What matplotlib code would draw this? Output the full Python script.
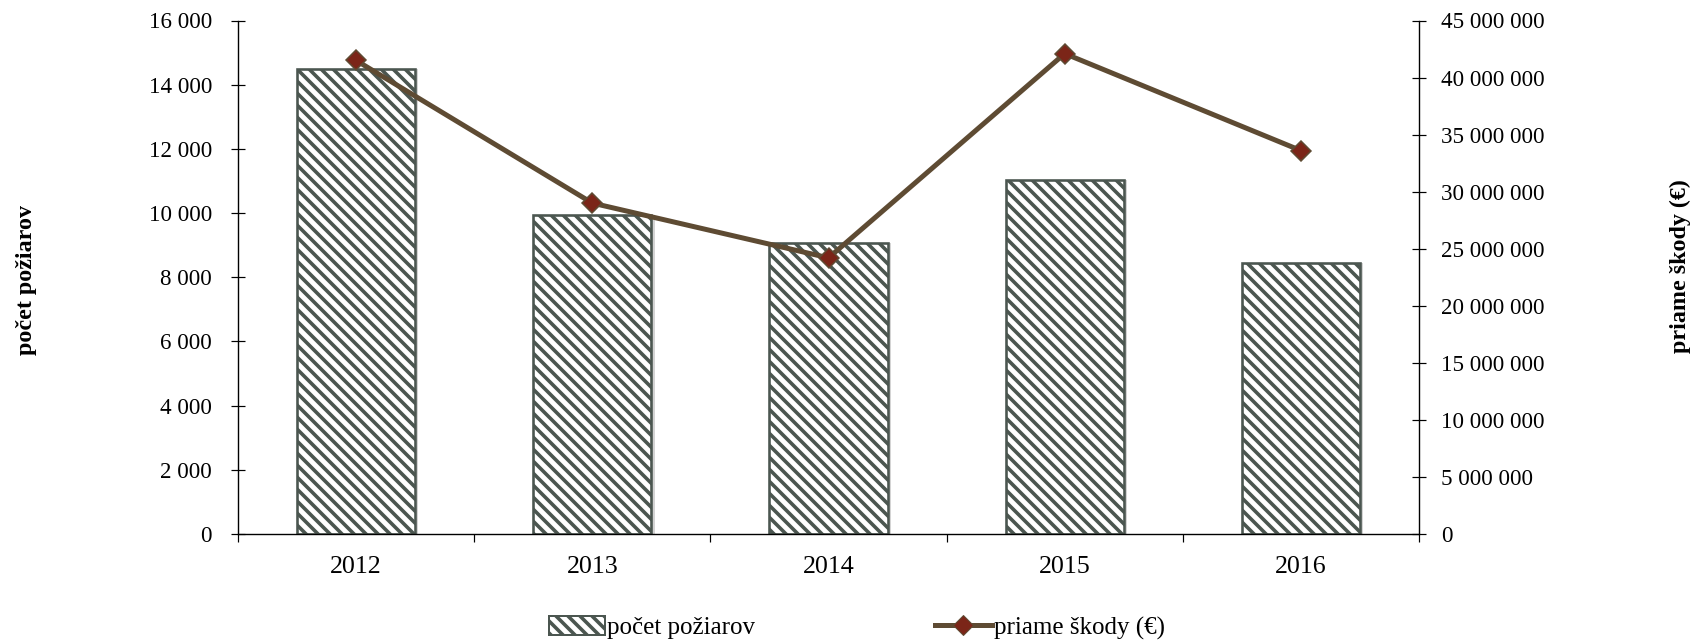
import numpy as np
import matplotlib
matplotlib.use("Agg")
import matplotlib.pyplot as plt
from matplotlib.ticker import FuncFormatter
from matplotlib.lines import Line2D
from matplotlib.patches import Patch

# data
years = ["2012", "2013", "2014", "2015", "2016"]
fires = [14480, 9940, 9060, 11040, 8450]
damage = [41.5e6, 29.0e6, 24.2e6, 42.1e6, 33.6e6]

left_ticks = [0, 2000, 4000, 6000, 8000, 10000, 12000, 14000, 16000]
right_ticks = [0, 5e6, 10e6, 15e6, 20e6, 25e6, 30e6, 35e6, 40e6, 45e6]

plt.rcParams['font.family'] = ['Liberation Serif', 'DejaVu Serif']
plt.rcParams['hatch.linewidth'] = 3.6
plt.rcParams['hatch.color'] = '#4b5650'

# at 72 dpi one point is one pixel
W, H, DPI = 1692, 643, 72
HATCH = '\\\\'
LINE_C = '#5e4b33'
MARK_C = '#7b2518'
BAR_EDGE = '#4b5650'

def spaced(v, pos):
    return "{:,.0f}".format(v).replace(",", " ")

fig = plt.figure(figsize=(W / DPI, H / DPI), dpi=DPI)
ax = fig.add_axes([238 / W, 1 - 534 / H, (1419 - 238) / W, (534 - 20.5) / H])
ax2 = ax.twinx()

x = np.arange(len(years))

# light shadow behind the bars
ax.bar(x + 0.014, fires, width=0.5, color='#d4d4d4', edgecolor='none', zorder=1)
ax.bar(x, fires, width=0.5, facecolor='white', edgecolor=BAR_EDGE,
       linewidth=2.6, hatch=HATCH, zorder=2)

ax2.plot(x, damage, color=LINE_C, linewidth=5, marker='D', markersize=14,
         markerfacecolor=MARK_C, markeredgecolor=LINE_C,
         markeredgewidth=1.5, zorder=3)

ax.set_xlim(-0.5, len(years) - 0.5)
ax.set_ylim(0, 16000)
ax2.set_ylim(0, 45e6)

ax.set_yticks(left_ticks)
ax2.set_yticks(right_ticks)
ax.yaxis.set_major_formatter(FuncFormatter(spaced))
ax2.yaxis.set_major_formatter(FuncFormatter(spaced))

ax.set_xticks(x)
ax.set_xticklabels(years)
ax.set_xticks(np.arange(len(years) + 1) - 0.5, minor=True)
ax.tick_params(axis='x', which='major', length=0, pad=22, labelsize=26)
ax.tick_params(axis='x', which='minor', length=8, width=1.2, direction='out')
ax.tick_params(axis='y', length=14, width=1.2, direction='inout', labelsize=23, pad=19)
ax2.tick_params(axis='y', length=14, width=1.2, direction='inout', labelsize=23, pad=15)

for a in (ax, ax2):
    a.spines['top'].set_visible(False)
    for s in ('left', 'right', 'bottom'):
        a.spines[s].set_linewidth(1.2)

fig.text(27 / W, 1 - 280 / H, "počet požiarov", rotation=90, ha='center',
         va='center', fontsize=24, fontweight='bold')
fig.text(1680 / W, 1 - 266 / H, "priame škody (€)", rotation=90, ha='center',
         va='center', fontsize=24, fontweight='bold')

handles = [
    Patch(facecolor='white', edgecolor=BAR_EDGE, hatch=HATCH, linewidth=2),
    Line2D([0], [0], color=LINE_C, linewidth=5, marker='D', markersize=14,
           markerfacecolor=MARK_C, markeredgecolor=LINE_C),
]
fig.legend(handles, ["počet požiarov", "priame škody (€)"], loc='center left',
           bbox_to_anchor=(526 / W, 1 - 628 / H), ncol=2, frameon=False,
           fontsize=25, handlelength=2.25, handleheight=0.75, handletextpad=0.1,
           columnspacing=7.2)

fig.savefig("out.png", dpi=DPI)
